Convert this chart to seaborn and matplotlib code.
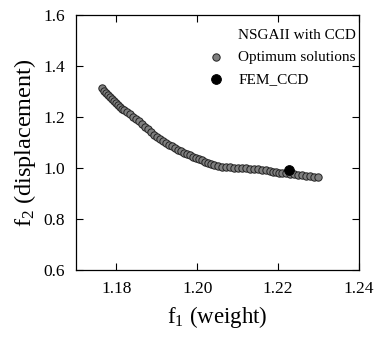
import matplotlib
matplotlib.use("Agg")
import matplotlib.pyplot as plt
import seaborn as sns
import pandas as pd

# Pareto front (f1 = weight, f2 = displacement)
f1_weight = [
    1.1764, 1.1769, 1.1774, 1.1779, 1.1784, 1.1789, 1.1794, 1.1799, 1.1804, 1.1809,
    1.1814, 1.1819, 1.1827, 1.1834, 1.1841, 1.1849, 1.1856, 1.1864, 1.1871, 1.1879,
    1.1886, 1.1893, 1.1901, 1.1908, 1.1916, 1.1923, 1.1930, 1.1938, 1.1945, 1.1953,
    1.1960, 1.1967, 1.1975, 1.1982, 1.1990, 1.1997, 1.2005, 1.2012, 1.2020, 1.2027,
    1.2034, 1.2042, 1.2051, 1.2061, 1.2071, 1.2081, 1.2091, 1.2101, 1.2111, 1.2121,
    1.2130, 1.2140, 1.2150, 1.2160, 1.2170, 1.2180, 1.2187, 1.2195, 1.2202, 1.2210,
    1.2220, 1.2230, 1.2240, 1.2250, 1.2260, 1.2269, 1.2279, 1.2289, 1.2299,
]
f2_displacement = [
    1.312, 1.303, 1.294, 1.285, 1.277, 1.269, 1.261, 1.253, 1.246, 1.239,
    1.232, 1.226, 1.218, 1.210, 1.200, 1.191, 1.183, 1.172, 1.161, 1.151,
    1.141, 1.131, 1.123, 1.115, 1.107, 1.099, 1.092, 1.085, 1.078, 1.071,
    1.065, 1.060, 1.055, 1.050, 1.045, 1.040, 1.035, 1.031, 1.025, 1.020,
    1.014, 1.010, 1.006, 1.004, 1.003, 1.002, 1.001, 1.000, 0.999, 0.998,
    0.997, 0.996, 0.995, 0.993, 0.991, 0.987, 0.985, 0.984, 0.982, 0.981,
    0.979, 0.978, 0.975, 0.973, 0.971, 0.969, 0.967, 0.965, 0.963,
]
fem_weight = [1.2228]
fem_displacement = [0.994]

x_ticks = [1.18, 1.20, 1.22, 1.24]
y_ticks = [0.6, 0.8, 1.0, 1.2, 1.4, 1.6]

sns.set_style("ticks")
plt.rcParams["font.family"] = ["Liberation Serif", "DejaVu Serif"]
plt.rcParams["mathtext.fontset"] = "custom"
plt.rcParams["mathtext.rm"] = "Liberation Serif"
plt.rcParams["mathtext.it"] = "Liberation Serif"
for key in ["text.color", "axes.labelcolor", "xtick.color", "ytick.color", "axes.edgecolor"]:
    plt.rcParams[key] = "black"

front = pd.DataFrame({"f1": f1_weight, "f2": f2_displacement})
fem = pd.DataFrame({"f1": fem_weight, "f2": fem_displacement})

fig = plt.figure(figsize=(3.77, 3.38), dpi=100)
ax = fig.add_axes([0.2016, 0.201, 0.7504, 0.755])

sns.scatterplot(data=front, x="f1", y="f2", ax=ax, color="#7f7f7f",
                edgecolor="#222222", linewidth=0.7, s=28, label="Optimum solutions")
sns.scatterplot(data=fem, x="f1", y="f2", ax=ax, color="black",
                edgecolor="black", linewidth=0.6, s=50, label="FEM_CCD")

ax.set_xlim(1.17, 1.24)
ax.set_ylim(0.6, 1.6)
ax.set_xticks(x_ticks)
ax.set_xticklabels([f"{v:.2f}" for v in x_ticks])
ax.set_yticks(y_ticks)
ax.set_yticklabels([f"{v:.1f}" for v in y_ticks])
ax.tick_params(direction="in", top=True, right=True, length=5, width=0.8,
               labelsize=12.5, pad=8)
for sp in ax.spines.values():
    sp.set_linewidth(0.9)

ax.set_xlabel(r"f$_1$ (weight)", fontsize=16.5, labelpad=5)
ax.set_ylabel(r"f$_2$ (displacement)", fontsize=17.5, labelpad=4)

leg = ax.legend(title="NSGAII with CCD", loc="upper right",
                bbox_to_anchor=(1.0, 0.958), frameon=False,
                fontsize=11, title_fontsize=11, alignment="right",
                handlelength=1.0, handletextpad=0.95,
                borderaxespad=0.1, borderpad=0.1,
                labelspacing=0.55, markerscale=1.0)

fig.savefig("out.png", dpi=100)
